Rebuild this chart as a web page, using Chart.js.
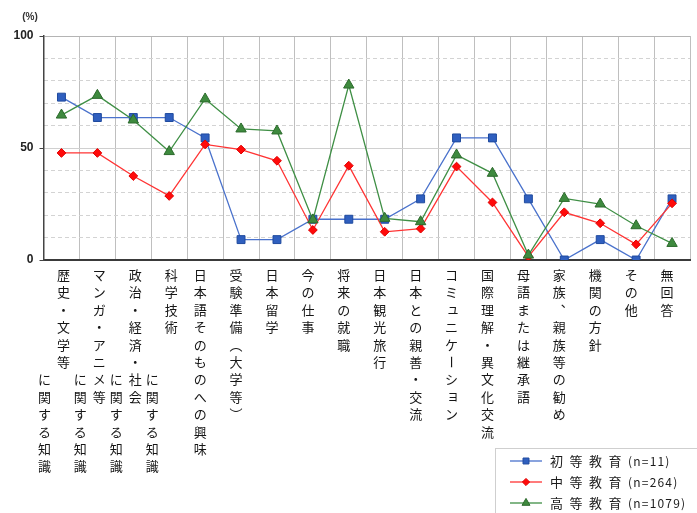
<!DOCTYPE html>
<html><head><meta charset="utf-8">
<script src="https://cdn.jsdelivr.net/npm/chart.js@4/dist/chart.umd.min.js"></script>
<style>html,body{margin:0;padding:0;background:#fff}canvas{display:block}</style>
</head><body>
<canvas id="c" width="697" height="513"></canvas>
<script>
// ---- data ----
const categories = [
  ['歴史・文学等','に関する知識'],
  ['マンガ・アニメ等','に関する知識'],
  ['政治・経済・社会','に関する知識'],
  ['科学技術','に関する知識'],
  ['日本語そのものへの興味'],
  ['受験準備（大学等）'],
  ['日本留学'],
  ['今の仕事'],
  ['将来の就職'],
  ['日本観光旅行'],
  ['日本との親善・交流'],
  ['コミュニケーション'],
  ['国際理解・異文化交流'],
  ['母語または継承語'],
  ['家族、親族等の勧め'],
  ['機関の方針'],
  ['その他'],
  ['無回答']
];
const seriesNames = ['初等教育(n=11)', '中等教育(n=264)', '高等教育(n=1079)'];
const primaryEdu   = [72.7,63.6,63.6,63.6,54.5,9.1,9.1,18.2,18.2,18.2,27.3,54.5,54.5,27.3,0,9.1,0,27.3];
const secondaryEdu = [47.8,47.8,37.5,28.6,51.6,49.3,44.3,13.4,42.1,12.6,14.0,41.7,25.7,1.5,21.3,16.4,7.0,25.3];
const higherEdu    = [64.7,73.5,62.5,48.4,71.9,58.5,57.6,17.9,78.1,18.6,17.1,46.9,38.7,2.2,27.5,25.0,15.3,7.4];
const yTickLabels = [0, 50, 100];
const yUnit = '(%)';

// ---- styles ----
const styles = [
  {line:'#4a72cc', fill:'#2f5fbf', edge:'#1f4a9e', point:'rect', r:5.6, lr:4.2},
  {line:'#ff3434', fill:'#ff0a0a', edge:'#e00000', point:'rectRot', r:4.4, lr:3.6},
  {line:'#3f8f45', fill:'#3e8a3e', edge:'#2c6a2c', point:'triangle', r:6, lr:4.6}
];
const seriesData = [primaryEdu, secondaryEdu, higherEdu];

const CJK = '"Noto Sans CJK JP","Noto Sans CJK SC",sans-serif';

function vChar(ctx, ch, x, y) {
  const map = {'（':'︵','）':'︶','、':'︑'};
  if (ch === 'ー') {
    ctx.save(); ctx.translate(x, y); ctx.rotate(Math.PI/2);
    ctx.fillText(ch, 0, 0); ctx.restore(); return;
  }
  let dx = 0, dy = 0;
  if ('ュョャッ'.includes(ch)) { dx = 1.5; dy = -1.5; }
  ctx.fillText(map[ch] || ch, x + dx, y + dy);
}

function drawMarker(ctx, type, x, y, r, fill, edge) {
  ctx.save();
  ctx.fillStyle = fill; ctx.strokeStyle = edge; ctx.lineWidth = 1;
  ctx.beginPath();
  if (type === 'rect') {
    const s = r * Math.SQRT1_2;
    ctx.rect(x - s, y - s, 2*s, 2*s);
  } else if (type === 'rectRot') {
    ctx.moveTo(x, y - r); ctx.lineTo(x + r, y); ctx.lineTo(x, y + r); ctx.lineTo(x - r, y); ctx.closePath();
  } else {
    ctx.moveTo(x, y - r);
    ctx.lineTo(x + r*Math.sin(2*Math.PI/3), y - r*Math.cos(2*Math.PI/3));
    ctx.lineTo(x + r*Math.sin(4*Math.PI/3), y - r*Math.cos(4*Math.PI/3));
    ctx.closePath();
  }
  ctx.fill(); ctx.stroke();
  ctx.restore();
}

const decor = {
  id: 'decor',
  afterDraw(chart) {
    const ctx = chart.ctx;
    const xs = chart.scales.x;
    const ys = chart.scales.y;
    // unit
    ctx.save();
    ctx.fillStyle = '#333';
    ctx.font = 'bold 10px "Liberation Sans", Arial, sans-serif';
    ctx.textAlign = 'center'; ctx.textBaseline = 'middle';
    ctx.fillText(yUnit, 30, 17);
    // category labels (vertical)
    ctx.font = '13px ' + CJK;
    ctx.fillStyle = '#161616';
    const top = ys.bottom + 15, step = 17.4;
    categories.forEach((cols, i) => {
      const cx = xs.getPixelForValue(i);
      if (cols.length === 1) {
        [...cols[0]].forEach((ch, k) => vChar(ctx, ch, cx - 5, top + k*step));
      } else {
        [...cols[0]].forEach((ch, k) => vChar(ctx, ch, cx + 2, top + k*step));
        [...cols[1]].forEach((ch, k) => vChar(ctx, ch, cx - 17, top + (6 + k)*step));
      }
    });
    // legend
    const lx = 495, ly = 448;
    ctx.fillStyle = '#fff';
    ctx.fillRect(lx, ly, 210, 70);
    ctx.strokeStyle = '#cfcfcf'; ctx.lineWidth = 1;
    ctx.strokeRect(lx + 0.5, ly + 0.5, 210, 70);
    seriesNames.forEach((name, i) => {
      const st = styles[i];
      const y = 461 + i * 21;
      ctx.strokeStyle = st.line; ctx.lineWidth = 1.3;
      ctx.beginPath(); ctx.moveTo(510, y); ctx.lineTo(542, y); ctx.stroke();
      drawMarker(ctx, st.point, 526, y, st.lr, st.fill, st.edge);
      ctx.fillStyle = '#1a1a1a';
      ctx.textAlign = 'left'; ctx.textBaseline = 'middle';
      let x = 550;
      const chars = [...name];
      let k = 0;
      ctx.font = '13px ' + CJK;
      while (k < chars.length && chars[k] !== '(') { ctx.fillText(chars[k], x, y); x += 19.5; k++; }
      ctx.font = '12px ' + CJK;
      for (; k < chars.length; k++) { ctx.fillText(chars[k], x, y); x += ctx.measureText(chars[k]).width + 1.2; }
    });
    ctx.restore();
  }
};

new Chart(document.getElementById('c'), {
  type: 'line',
  data: {
    labels: categories.map(c => c.join('')),
    datasets: seriesNames.map((name, i) => ({
      label: name,
      data: seriesData[i],
      borderColor: styles[i].line,
      borderWidth: 1.3,
      backgroundColor: styles[i].fill,
      pointBackgroundColor: styles[i].fill,
      pointBorderColor: styles[i].edge,
      pointBorderWidth: 1,
      pointStyle: styles[i].point,
      pointRadius: styles[i].r,
      pointHoverRadius: styles[i].r,
      tension: 0,
      order: 2 - i
    }))
  },
  options: {
    responsive: false,
    animation: false,
    events: [],
    layout: { padding: { top: 36, left: 0, right: -2, bottom: 0 } },
    plugins: { legend: { display: false }, tooltip: { enabled: false } },
    scales: {
      x: {
        type: 'category',
        offset: true,
        grid: { offset: true, color: '#bfbfbf', lineWidth: 1, drawTicks: false },
        border: { color: '#3a3a3a', width: 2 },
        ticks: { display: false },
        afterFit(s) { s.height = 253; }
      },
      y: {
        position: 'left',
        min: 0, max: 100,
        afterBuildTicks(s) { s.ticks = yTickLabels.map(v => ({ value: v })); },
        ticks: {
          color: '#222', padding: 6,
          font: { family: '"Liberation Sans", Arial, sans-serif', size: 12, weight: 'bold' }
        },
        grid: {
          color: ctx => ctx.tick && ctx.tick.value === 50 ? '#d0d0d0' : (ctx.tick && ctx.tick.value === 100 ? '#b4b4b4' : 'rgba(0,0,0,0)'),
          tickColor: '#444', tickLength: 4, lineWidth: 1
        },
        border: { color: '#444', width: 1.5 },
        afterFit(s) { s.width = 43.5; }
      },
      y2: {
        position: 'left',
        min: 0, max: 100,
        ticks: { display: false, stepSize: 10 },
        grid: {
          drawTicks: false,
          color: ctx => (ctx.tick && ctx.tick.value % 50 === 0) ? 'rgba(0,0,0,0)' : '#d3d3d3',
          lineWidth: 1
        },
        border: { display: false, dash: [4, 3] },
        afterFit(s) { s.width = 0; }
      }
    }
  },
  plugins: [decor]
});
</script>
</body></html>
